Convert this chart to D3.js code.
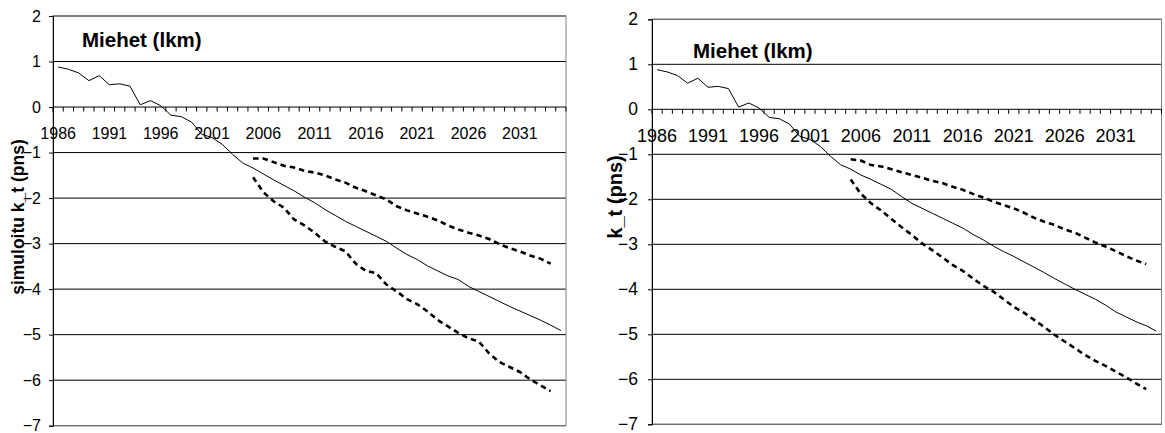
<!DOCTYPE html>
<html>
<head>
<meta charset="utf-8">
<script src="https://cdn.jsdelivr.net/npm/d3@7"></script>
<style>
  html, body { margin: 0; padding: 0; background: #fff; }
  svg { display: block; font-family: "Liberation Sans", Arial, sans-serif; }
</style>
</head>
<body>
<svg id="chart" width="1165" height="433"></svg>
<script>
// Years on the category axis
const years = d3.range(1986, 2036);
const yTicks = [2, 1, 0, -1, -2, -3, -4, -5, -6, -7];

// Observed k_t, 1986–2004
const observed = [0.88, 0.83, 0.75, 0.58, 0.69, 0.49, 0.51, 0.46, 0.05, 0.14,
  0.03, -0.18, -0.21, -0.33, -0.60, -0.67, -0.82, -1.04, -1.23];

// Projection years
const projYears = d3.range(2005, 2036);
const bandYears = d3.range(2005, 2035);

// Simulated k_t: central path and upper / lower bounds
const simCentral = [-1.34, -1.47, -1.60, -1.72, -1.84, -1.98, -2.10, -2.25, -2.38, -2.51,
  -2.62, -2.73, -2.84, -2.95, -3.10, -3.24, -3.35, -3.49, -3.60, -3.71,
  -3.79, -3.94, -4.05, -4.16, -4.27, -4.38, -4.48, -4.58, -4.68, -4.79, -4.91];
const simUpper = [-1.13, -1.13, -1.21, -1.29, -1.33, -1.40, -1.44, -1.50, -1.59, -1.66,
  -1.77, -1.85, -1.94, -2.03, -2.18, -2.27, -2.34, -2.41, -2.49, -2.60,
  -2.69, -2.76, -2.82, -2.90, -3.01, -3.10, -3.17, -3.26, -3.33, -3.44];
const simLower = [-1.54, -1.87, -2.07, -2.21, -2.47, -2.60, -2.76, -2.95, -3.07, -3.17,
  -3.44, -3.60, -3.65, -3.90, -4.05, -4.22, -4.33, -4.49, -4.68, -4.82,
  -4.96, -5.08, -5.15, -5.41, -5.60, -5.71, -5.82, -5.98, -6.11, -6.24];

// Model k_t forecast: central path and upper / lower bounds
const ktCentral = [-1.33, -1.46, -1.56, -1.67, -1.78, -1.94, -2.09, -2.20, -2.31, -2.42,
  -2.53, -2.64, -2.78, -2.90, -3.04, -3.16, -3.27, -3.39, -3.51, -3.63,
  -3.76, -3.88, -4.00, -4.11, -4.22, -4.35, -4.50, -4.61, -4.72, -4.81, -4.93];
const ktUpper = [-1.11, -1.14, -1.24, -1.27, -1.33, -1.40, -1.46, -1.52, -1.59, -1.64,
  -1.72, -1.79, -1.88, -1.96, -2.05, -2.13, -2.20, -2.30, -2.41, -2.50,
  -2.57, -2.67, -2.74, -2.85, -2.96, -3.05, -3.15, -3.26, -3.36, -3.44];
const ktLower = [-1.56, -1.88, -2.09, -2.25, -2.44, -2.62, -2.79, -2.98, -3.13, -3.29,
  -3.46, -3.59, -3.76, -3.92, -4.05, -4.22, -4.39, -4.52, -4.68, -4.84,
  -5.01, -5.16, -5.31, -5.46, -5.59, -5.70, -5.83, -5.95, -6.09, -6.22];

const titleText = "Miehet (lkm)";

const svg = d3.select("#chart");

function drawPanel(p) {
  const g = svg.append("g");
  const x = d3.scaleBand().domain(years).range([p.left, p.right]).padding(0);
  const y = d3.scaleLinear().domain([-7, 2]).range([p.bottom, p.top]);
  const cx = yr => x(yr) + x.bandwidth() / 2;

  // horizontal gridlines
  g.append("g").selectAll("line").data(yTicks.filter(v => v !== 0)).join("line")
    .attr("x1", p.left).attr("x2", p.right)
    .attr("y1", d => y(d)).attr("y2", d => y(d))
    .attr("stroke", "#000").attr("stroke-width", 1);

  // plot-area border
  g.append("rect")
    .attr("x", p.left).attr("y", p.top)
    .attr("width", p.right - p.left).attr("height", p.bottom - p.top)
    .attr("fill", "none").attr("stroke", "#808080").attr("stroke-width", 1);

  // value axis on the left
  const yAxis = d3.axisLeft(y).tickValues(yTicks).tickSize(4).tickPadding(p.yPad)
    .tickFormat(d3.format("d"));
  const ya = g.append("g").attr("transform", `translate(${p.left},0)`).call(yAxis);
  ya.select(".domain").attr("stroke", "#000");
  ya.selectAll(".tick line").attr("stroke", "#000");
  ya.selectAll(".tick text").attr("font-size", p.yFont).attr("fill", "#000")
    .attr("font-family", "Liberation Sans, Arial, sans-serif");

  // category axis crossing at zero, ticks between categories
  const y0 = y(0);
  g.append("line").attr("x1", p.left).attr("x2", p.right)
    .attr("y1", y0).attr("y2", y0).attr("stroke", "#000");
  const bounds = years.map(yr => x(yr)).concat([p.right]);
  g.append("g").selectAll("line").data(bounds).join("line")
    .attr("x1", d => d).attr("x2", d => d)
    .attr("y1", y0).attr("y2", y0 + 4.5).attr("stroke", "#000");
  g.append("g").selectAll("text").data(years.filter((yr, i) => i % 5 === 0)).join("text")
    .attr("x", d => cx(d)).attr("y", p.xLabelY)
    .attr("text-anchor", "middle").attr("font-size", p.xFont).attr("fill", "#000")
    .text(d => d);

  const line = d3.line().x(d => cx(d[0])).y(d => y(d[1]));

  // observed history joined to central projection
  const solid = years.map((yr, i) => [yr, i < observed.length ? observed[i] : p.central[i - observed.length]]);
  g.append("path").datum(solid).attr("d", line)
    .attr("fill", "none").attr("stroke", "#000").attr("stroke-width", 1);

  // upper and lower bounds
  [p.upper, p.lower].forEach(arr => {
    g.append("path").datum(bandYears.map((yr, i) => [yr, arr[i]])).attr("d", line)
      .attr("fill", "none").attr("stroke", "#000").attr("stroke-width", 2.6)
      .attr("stroke-dasharray", "5.5,4");
  });

  // panel title
  g.append("text").attr("x", p.titleX).attr("y", p.titleY)
    .attr("font-size", p.titleFont).attr("font-weight", "bold").attr("fill", "#000")
    .text(titleText);

  // value-axis title
  g.append("text")
    .attr("transform", `translate(${p.yTitleX},${p.yTitleY}) rotate(-90)`)
    .attr("text-anchor", "middle").attr("font-size", p.yTitleFont)
    .attr("font-weight", "bold").attr("fill", "#000")
    .text(p.yTitle);
}

drawPanel({
  left: 53, right: 566, top: 16, bottom: 425.7,
  central: simCentral, upper: simUpper, lower: simLower,
  yFont: "16px", yPad: 8, xFont: "16px", xLabelY: 138.5,
  titleX: 82, titleY: 46.5, titleFont: "20.5px",
  yTitle: "simuloitu k_t (pns)", yTitleX: 24, yTitleY: 217, yTitleFont: "17.5px"
});

drawPanel({
  left: 652, right: 1161.5, top: 19.3, bottom: 424.3,
  central: ktCentral, upper: ktUpper, lower: ktLower,
  yFont: "17.5px", yPad: 10, xFont: "18px", xLabelY: 141.5,
  titleX: 693, titleY: 57.5, titleFont: "20.5px",
  yTitle: "k_t (pns)", yTitleX: 622, yTitleY: 197, yTitleFont: "20px"
});
</script>
</body>
</html>
